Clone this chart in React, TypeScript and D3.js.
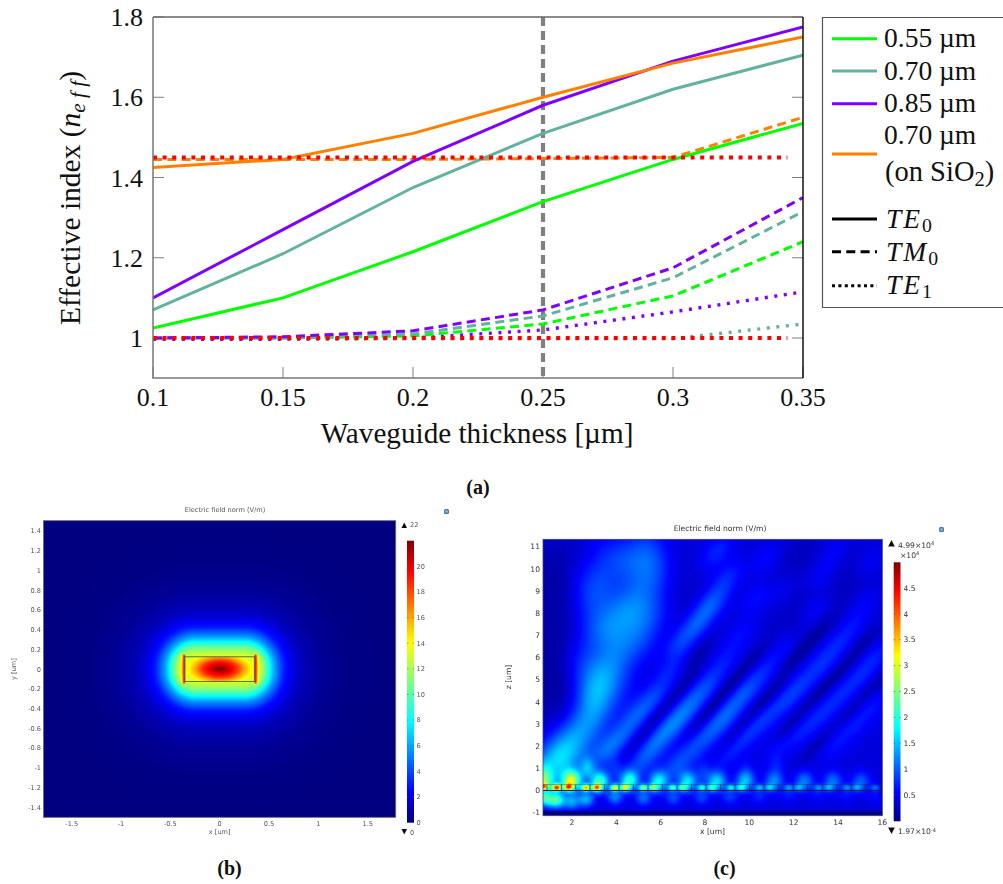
import React, { useMemo } from 'react';
import * as d3 from 'd3';

const thickness = [0.1, 0.15, 0.2, 0.25, 0.3, 0.35];
const te0_055 = [1.025, 1.1, 1.215, 1.34, 1.445, 1.535];
const te0_070 = [1.07, 1.21, 1.375, 1.51, 1.62, 1.705];
const te0_085 = [1.1, 1.27, 1.44, 1.58, 1.69, 1.775];
const te0_sio2 = [1.425, 1.445, 1.51, 1.6, 1.685, 1.75];
const tm0_055 = [1.0, 1.0, 1.005, 1.035, 1.105, 1.24];
const tm0_070 = [1.0, 1.0, 1.01, 1.055, 1.15, 1.315];
const tm0_085 = [1.0, 1.003, 1.018, 1.07, 1.175, 1.35];
const tm0_sio2 = [1.445, 1.445, 1.445, 1.447, 1.45, 1.55];
const te1_070 = [0.998, 0.998, 0.998, 0.998, 0.998, 1.035];
const te1_085 = [0.997, 0.997, 1.0, 1.02, 1.065, 1.115];
const cutoffRange = [0.1, 0.344];
const cutoffLevels = [1.45, 1.0];
const xTicks = [0.1, 0.15, 0.2, 0.25, 0.3, 0.35];
const yTicks = [1, 1.2, 1.4, 1.6, 1.8];

const GREEN = '#00ff00', TEAL = '#62b29e', PURPLE = '#7f00ff', ORANGE = '#ff8000', RED = '#ff0000';
const TM_DASH = '9 5.3', TE1_DASH = '3 6.6';

const colorStops = [0, 0.11, 0.36, 0.5, 0.64, 0.89, 1];
const colorValues = ['#00007f', '#0000ff', '#00ffff', '#7fff7f', '#ffff00', '#ff0000', '#7f0000'];

// (b) mode profile
const outsideDist = [0, 0.05, 0.1, 0.15, 0.2, 0.3, 0.4, 0.5, 0.7, 1, 1.5, 3];
const outsideVal = [13.5, 12, 10.3, 8, 5.8, 2.9, 1.7, 1.0, 0.42, 0.1, 0.02, 0];
const insideRad = [0, 0.15, 0.3, 0.5, 0.7, 0.85, 1, 2];
const insideVal = [22, 21.2, 20, 18.5, 16, 14.5, 13.3, 13];
const xTicksB = [-1.5, -1, -0.5, 0, 0.5, 1, 1.5];
const yTicksB = [-1.4, -1.2, -1, -0.8, -0.6, -0.4, -0.2, 0, 0.2, 0.4, 0.6, 0.8, 1, 1.2, 1.4];
const barTicksB = [0, 2, 4, 6, 8, 10, 12, 14, 16, 18, 20];

// (c) field, read as blobs [x, z, amplitude]
const plumeBlobs = [
  [1.23, 1.22, 1.0], [1.91, 2.05, 0.8], [2.59, 2.95, 0.6], [3.11, 3.85, 0.5], [2.89, 4.6, 0.5], [3.49, 5.35, 0.55],
  [4.17, 6.26, 0.4], [3.64, 7.38, 0.45], [4.32, 8.14, 0.45], [5.07, 8.8, 0.35], [4.47, 10.3, 0.35], [5.59, 9.86, 0.4],
  [5.37, 10.9, 0.35], [3.26, 9.4, 0.3], [2.81, 8.5, 0.3], [2.36, 5.8, 0.3], [4.9, 6.9, 0.3], [4.0, 4.6, 0.2], [3.6, 10.6, 0.2],
  [5.2, 7.6, 0.28], [2.9, 7, 0.25], [5.8, 8.2, 0.2], [2.4, 9.6, 0.12],
];
const ridgeBlobs = [
  [3.49, 1.74, 0.5], [4.24, 2.5, 0.42], [4.92, 3.4, 0.42], [5.67, 4.2, 0.38], [6.42, 5.35, 0.26], [6.87, 6.63, 0.38], [7.62, 7.53, 0.5], [8.3, 8.44, 0.5], [8.98, 9.56, 0.3], [8.53, 10.77, 0.3],
  [5.14, 1.29, 0.42], [5.82, 2.2, 0.5], [6.57, 3.02, 0.58], [7.32, 3.85, 0.5], [8.07, 4.75, 0.38], [8.83, 5.8, 0.22], [9.58, 7, 0.18],
  [6.57, 0.99, 0.42], [7.4, 1.82, 0.34], [8.23, 2.65, 0.42], [8.98, 3.47, 0.5], [9.8, 4.45, 0.45], [10.63, 5.35, 0.26], [11.53, 6.4, 0.18],
  [8.98, 1.6, 0.22], [9.8, 2.5, 0.3], [10.63, 3.25, 0.3], [11.53, 4, 0.3], [12.29, 4.75, 0.3], [13.19, 5.65, 0.3], [13.94, 6.56, 0.26], [14.7, 7.46, 0.22],
  [11.23, 1.9, 0.18], [12.29, 2.65, 0.22], [13.19, 3.4, 0.26], [14.09, 4.3, 0.26], [15, 5.2, 0.26], [15.74, 6.1, 0.22],
  [13.79, 2.05, 0.18], [14.7, 2.95, 0.22], [15.6, 3.85, 0.18],
  [13.19, 9.7, 0.2], [13.8, 10.77, 0.18], [15.14, 8.5, 0.18], [11.5, 9, 0.14], [10.3, 8.66, 0.2], [10.8, 10.5, 0.2], [15.4, 10.3, 0.14], [13, 8.2, 0.18],
];
const darkStripes = [
  [11.83, 2.95, -0.24], [13.04, 4.3, -0.24], [14.09, 5.35, -0.24], [15.14, 6.63, -0.2],
  [13.04, 2.05, -0.2], [14.54, 3.55, -0.2], [15.74, 4.9, -0.2],
  [9.28, 2.5, -0.24], [10.18, 3.55, -0.24], [11.08, 4.45, -0.24], [11.98, 5.95, -0.22], [13.04, 7, -0.2],
  [7.77, 3.1, -0.24], [8.53, 4, -0.24], [9.28, 4.9, -0.24], [10.18, 5.95, -0.2],
  [4.92, 2.2, -0.2], [5.67, 3.1, -0.2], [6.42, 4, -0.2], [7.32, 5.05, -0.2], [7.62, 6.1, -0.18],
];
const darkBroad = [
  [1.3, 6, -0.22], [1.3, 9.5, -0.22], [1.5, 3.6, -0.15], [6.9, 8.2, -0.08], [12.3, 10.9, -0.1], [14.5, 9, -0.12], [11.8, 7.8, -0.08],
];
const guideSpots = [
  [0.71, 0.2, 2.4], [1.31, 0.15, 3.4], [1.83, 0.17, 2.4], [2.63, 0.15, 2.9], [3.11, 0.15, 2.8], [3.94, 0.15, 2.5], [4.39, 0.15, 2.1], [5.22, 0.15, 1.9], [5.67, 0.15, 1.7], [6.54, 0.15, 1.5], [6.99, 0.15, 1.4], [7.85, 0.15, 1.3], [8.3, 0.15, 1.2],
  [9.16, 0.15, 1.2], [9.61, 0.15, 1.1], [10.45, 0.15, 0.95], [10.9, 0.15, 0.85], [11.77, 0.15, 0.8], [12.21, 0.15, 0.75], [13.11, 0.15, 0.75], [13.56, 0.15, 0.7], [14.39, 0.15, 0.7], [14.84, 0.15, 0.65], [15.67, 0.15, 0.6],
];
const lobesAbove = [
  [0.75, 0.45, 1.5], [1.98, 0.45, 2.4], [3.26, 0.42, 1.7], [4.59, 0.45, 1.5], [5.89, 0.42, 1.25], [7.22, 0.42, 1.25], [8.53, 0.42, 1.2], [9.8, 0.42, 1.0], [11.11, 0.42, 0.8], [12.47, 0.42, 0.75], [13.76, 0.42, 0.7], [15.02, 0.4, 0.6],
];
const lobesBelow = [
  [0.8, -0.35, 1.5], [1.31, -0.42, 1.6], [1.98, -0.5, 0.9], [2.63, -0.38, 1.0], [3.94, -0.28, 0.75], [5.22, -0.32, 0.65], [6.57, -0.32, 0.5], [7.85, -0.3, 0.45], [9.13, -0.28, 0.4], [10.45, -0.25, 0.3], [11.77, -0.2, 0.25], [13.1, -0.2, 0.2], [14.4, -0.2, 0.2], [15.67, -0.2, 0.18],
];
const upperLobes = [
  [2.69, 1.0, 0.8], [3.94, 1.0, 0.3], [7.92, 0.8, 0.35], [9.88, 0.85, 0.22], [11.23, 1.1, 0.2], [0.72, 0.95, 0.5],
];
const gratingEdges = [0.87, 1.52, 2.17, 2.81, 3.46, 4.12, 4.77, 5.43, 6.08, 6.74, 7.39, 8.05, 8.7, 9.36, 10.01, 10.67, 11.32, 11.98, 12.63, 13.29, 13.94, 14.6, 15.25, 15.91];
const xTicksC = [2, 4, 6, 8, 10, 12, 14, 16];
const yTicksC = [-1, 0, 1, 2, 3, 4, 5, 6, 7, 8, 9, 10, 11];
const barTicksC = [0.5, 1, 1.5, 2, 2.5, 3, 3.5, 4, 4.5];

type B = number[];
const gauss = (p: B, x: number, z: number, sa: number, sb: number, ang: number) => {
  const c = Math.cos(ang), s = Math.sin(ang);
  const dx = x - p[0], dz = z - p[1];
  const u = dx * c + dz * s, v = -dx * s + dz * c;
  return p[2] * Math.exp(-0.5 * (u * u / (sa * sa) + v * v / (sb * sb)));
};

function paint(w: number, h: number, fn: (px: number, py: number) => number, max: number) {
  const cv = document.createElement('canvas');
  cv.width = w; cv.height = h;
  const ctx = cv.getContext('2d')!;
  const img = ctx.createImageData(w, h);
  const col = d3.scaleLinear<string>().domain(colorStops).range(colorValues).clamp(true);
  const cache = d3.range(0, 1025).map(i => d3.rgb(col(i / 1024)));
  for (let j = 0; j < h; j++) for (let i = 0; i < w; i++) {
    const c = cache[Math.max(0, Math.min(1024, Math.round(fn(i + 0.5, j + 0.5) / max * 1024)))];
    const k = (j * w + i) * 4;
    img.data[k] = c.r; img.data[k + 1] = c.g; img.data[k + 2] = c.b; img.data[k + 3] = 255;
  }
  ctx.putImageData(img, 0, 0);
  return cv.toDataURL();
}

const Sub = ({ t }: { t: string }) => <tspan fontStyle="normal" fontSize="0.72em" dy="0.22em" letterSpacing={0}>{t}</tspan>;

const SER = '"Liberation Serif", serif';
const SANS = '"DejaVu Sans", sans-serif';
const GREYT = '#555';

export default function App() {
  // panel (a)
  const X = { l: 153, r: 803 }, Y = { t: 17, b: 378 };
  const x = d3.scaleLinear().domain([0.1, 0.35]).range([X.l, X.r]);
  const y = d3.scaleLinear().domain([1, 1.8]).range([338, 17]);
  const line = d3.line<number>().x((_, i) => x(thickness[i])).y(d => y(d));
  const series: [number[], string, string | undefined][] = [
    [te1_070, TEAL, TE1_DASH], [te1_085, PURPLE, TE1_DASH],
    [tm0_sio2, ORANGE, TM_DASH], [tm0_055, GREEN, TM_DASH], [tm0_070, TEAL, TM_DASH], [tm0_085, PURPLE, TM_DASH],
    [te0_055, GREEN, undefined], [te0_070, TEAL, undefined], [te0_085, PURPLE, undefined], [te0_sio2, ORANGE, undefined],
  ];

  // panel (b)
  const bx = d3.scaleLinear().domain([-1.5, 1.5]).range([71.7, 367.7]);
  const by = d3.scaleLinear().domain([-1.4, 1.4]).range([807.3, 531]);
  const bbar = d3.scaleLinear().domain([0, 22]).range([822.5, 540.7]);
  const R = { l: 43.5, r: 395.7, t: 520.7, b: 817.3 };
  // panel (c)
  const cx = d3.scaleLinear().domain([2, 16]).range([572, 882.3]);
  const cy = d3.scaleLinear().domain([-1, 11]).range([812.7, 546.7]);
  const cbar = d3.scaleLinear().domain([0.5, 4.5]).range([795, 588]);
  const S = { l: 543, r: 882.3, t: 539.3, b: 815.7 };

  const { imgB, imgC, barB, barC } = useMemo(() => {
    const fo = d3.scaleLinear().domain(outsideDist).range(outsideVal);
    const fi = d3.scaleLinear().domain(insideRad).range(insideVal);
    const hw = 0.355, hh = 0.125, rr = 0.11;
    const fb = (px: number, py: number) => {
      const xv = bx.invert(R.l + px), yv = by.invert(R.t + py);
      const ax = Math.abs(xv), ay = Math.abs(yv);
      const inside = ax <= hw && ay <= hh;
      let v;
      if (inside) v = fi(Math.hypot(xv / hw, yv / 0.17));
      else {
        const d = Math.max(0, Math.hypot(Math.max(0, ax - (hw - rr)), Math.max(0, ay - (hh - rr))) - rr);
        const dx = Math.max(0, ax - hw), dy = Math.max(0, ay - hh);
        v = fo(d) + (dx > 0 ? 3 * Math.exp(-dx / 0.05) * Math.exp(-dy / 0.04) : 0);
      }
      const strip = Math.exp(-Math.pow((ax - 0.362) / 0.014, 2)) * (ay < 0.15 ? 1 : 0);
      return v + strip * Math.max(0, 19.5 - v);
    };
    const rot = (48 * Math.PI) / 180;
    const fc = (px: number, py: number) => {
      const xv = cx.invert(S.l + px), z = cy.invert(S.t + py);
      let v = 0.4;
      for (const b of plumeBlobs) v += gauss(b, xv, z, 0.6, 0.72, 0);
      for (const b of ridgeBlobs) v += gauss(b, xv, z, 0.65, 0.38, rot);
      for (const b of darkStripes) v += gauss(b, xv, z, 0.75, 0.24, rot);
      for (const b of darkBroad) v += gauss(b, xv, z, 1.0, 1.5, 0);
      v = Math.max(v, 0.06);
      for (const b of guideSpots) v += gauss(b, xv, z, 0.14, 0.11, 0);
      for (const b of lobesAbove) v += gauss(b, xv, z, 0.29, 0.32, 0);
      for (const b of lobesBelow) v += gauss(b, xv, z, 0.25, 0.24, 0);
      for (const b of upperLobes) v += gauss(b, xv, z, 0.24, 0.35, 0);
      if (z < -0.9) v = 0.12;
      return Math.min(v, 4.85);
    };
    const imgB = paint(Math.round(R.r - R.l), Math.round(R.b - R.t), fb, 22);
    const imgC = paint(Math.round(S.r - S.l), Math.round(S.b - S.t), fc, 4.99);
    const barB = paint(7, 282, (_, p) => 22 * (1 - p / 282), 22);
    const barC = paint(7, 259, (_, p) => 4.99 * (1 - p / 259), 4.99);
    return { imgB, imgC, barB, barC };
  }, []);

  const gPath = gratingEdges.map(e => `M${cx(e)},${cy(0)}V${cy(0.27)}`).join('');
  const legendY = [38.7, 71, 103.7, 154];
  const legendC = [GREEN, TEAL, PURPLE, ORANGE];

  return (
    <svg width={1003} height={884} style={{ position: 'absolute', left: 0, top: 0, background: '#fff' }}>
      <defs>
        <clipPath id="plotA"><rect x={X.l} y={Y.t} width={X.r - X.l} height={Y.b - Y.t} /></clipPath>
        <filter id="soft" x="-5%" y="-5%" width="110%" height="110%"><feGaussianBlur stdDeviation="0.3" /></filter>
      </defs>

      {/* panel (a) */}
      <g fontFamily={SER} fill="#111">
        <g stroke="#808080" strokeWidth={1}>
          {xTicks.map(t => <path key={t} d={`M${x(t)},${Y.b}v-11`} />)}
          {yTicks.map(t => <path key={t} d={`M${X.l},${y(t)}h11M${X.r},${y(t)}h-11`} />)}
        </g>
        <g clipPath="url(#plotA)" fill="none">
          <path d={`M${x(0.25)},${Y.t}V${Y.b}`} stroke="#808080" strokeWidth={4.2} strokeDasharray="9 5" />
          {series.map(([v, c, dash], i) => (
            <path key={i} d={line(v)!} stroke={c} strokeWidth={dash === TE1_DASH ? 3.4 : 3} strokeDasharray={dash} />
          ))}
          {cutoffLevels.map(l => (
            <path key={l} d={`M${x(cutoffRange[0])},${y(l)}H${x(cutoffRange[1])}`} stroke={RED} strokeWidth={4} strokeDasharray="4 5.6" />
          ))}
        </g>
        <path d={`M${X.l},${Y.t}H${X.r}`} stroke="#666" strokeWidth={1.5} fill="none" />
        <path d={`M${X.l},${Y.t}V${Y.b}H${X.r}`} stroke="#777" strokeWidth={1.5} fill="none" />
        <path d={`M${X.r},${Y.t}V${Y.b}`} stroke="#111" strokeWidth={1.5} fill="none" />
        {xTicks.map(t => <text key={t} x={x(t)} y={406} textAnchor="middle" fontSize={26}>{String(t)}</text>)}
        {yTicks.map(t => <text key={t} x={143} y={y(t) + 9} textAnchor="end" fontSize={26}>{String(t)}</text>)}
        <text x={477} y={443} textAnchor="middle" fontSize={29.2}>Waveguide thickness [µm]</text>
        <text transform="translate(80,198) rotate(-90)" textAnchor="middle" fontSize={29.5}>
          Effective index (<tspan fontStyle="italic">n</tspan><tspan fontStyle="italic" fontSize="0.72em" dy="0.22em">e f f</tspan><tspan dy="-0.16em">)</tspan>
        </text>

        {/* legend */}
        <path d="M1003,17.5H822.5V307.5H1003" fill="none" stroke="#555" strokeWidth={1.2} />
        {legendY.map((ly, i) => <path key={i} d={`M832,${ly}H877`} stroke={legendC[i]} strokeWidth={3} />)}
        <path d="M832,219H877" stroke="#000" strokeWidth={3} />
        <path d="M832,251.7H877" stroke="#000" strokeWidth={3} strokeDasharray="9 5.3" />
        <path d="M832,285.7H877" stroke="#000" strokeWidth={3} strokeDasharray="3 3.4" />
        <g fontSize={27.5}>
          <text x={884} y={47}>0.55 µm</text>
          <text x={884} y={80}>0.70 µm</text>
          <text x={884} y={112}>0.85 µm</text>
          <text x={884} y={144}>0.70 µm</text>
          <text x={885} y={181} fontSize={28.5}>(on SiO<tspan fontSize="0.72em" dy="0.22em">2</tspan><tspan dy="-0.16em">)</tspan></text>
          <text x={886} y={228} fontStyle="italic" letterSpacing={2}>TE<Sub t="0" /></text>
          <text x={886} y={261} fontStyle="italic" letterSpacing={2}>TM<Sub t="0" /></text>
          <text x={886} y={294} fontStyle="italic" letterSpacing={2}>TE<Sub t="1" /></text>
        </g>
      </g>

      {/* captions */}
      <g fontFamily={SER} fontWeight="bold" fontSize={20} fill="#111" textAnchor="middle">
        <text x={478} y={494}>(a)</text>
        <text x={229.5} y={875}>(b)</text>
        <text x={724.5} y={875}>(c)</text>
      </g>

      {/* panel (b) */}
      <image href={imgB} x={R.l} y={R.t} width={R.r - R.l} height={R.b - R.t} preserveAspectRatio="none" />
      <image href={barB} x={407} y={540.7} width={7} height={282} preserveAspectRatio="none" />
      <g filter="url(#soft)">
        <rect x={R.l} y={R.t} width={R.r - R.l} height={R.b - R.t} fill="none" stroke="#667" strokeWidth={0.8} />
        <rect x={bx(-0.355)} y={by(0.125)} width={bx(0.355) - bx(-0.355)} height={by(-0.125) - by(0.125)} fill="none" stroke="#2a5a5a" strokeWidth={0.8} />
        <g fontFamily={SANS} fontSize={6.6} fill={GREYT}>
          <text x={225} y={512} textAnchor="middle">Electric field norm (V/m)</text>
          {xTicksB.map(t => <text key={t} x={bx(t)} y={825.5} textAnchor="middle">{String(t)}</text>)}
          {yTicksB.map(t => <text key={t} x={41} y={by(t) + 2.4} textAnchor="end">{String(t)}</text>)}
          <text x={219.7} y={833.5} textAnchor="middle">x [um]</text>
          <text transform="translate(15.5,669) rotate(-90)" textAnchor="middle">y [um]</text>
          {barTicksB.map(t => <text key={t} x={416.5} y={bbar(t) + 2.4}>{String(t)}</text>)}
          <text x={410} y={527}>22</text>
          <text x={410} y={834.5}>0</text>
          <path d="M401.5,528L407,528L404.25,522.5Z" fill="#111" />
          <path d="M401.5,829L407,829L404.25,834.5Z" fill="#111" />
        </g>
        <g stroke="#556" strokeWidth={0.6}>
          {barTicksB.map(t => <path key={t} d={`M407,${bbar(t)}h1.5M414,${bbar(t)}h-1.5`} />)}
        </g>
        <rect x={444} y={509} width={5} height={5} rx={1.5} fill="#3a78c8" />
        <rect x={445.5} y={510.5} width={2} height={2} fill="#e8d860" />
      </g>

      {/* panel (c) */}
      <image href={imgC} x={S.l} y={S.t} width={S.r - S.l} height={S.b - S.t} preserveAspectRatio="none" />
      <image href={barC} x={893.7} y={562.3} width={6.8} height={259} preserveAspectRatio="none" />
      <g filter="url(#soft)">
        <path d={gPath} stroke="#0a2a40" strokeWidth={0.7} fill="none" />
        <path d={`M${S.l},${cy(0)}H${S.r}`} stroke="#0a2030" strokeWidth={1} fill="none" />
        <path d={`M${S.l},${cy(0.27)}H${S.r}`} stroke="#0a2a40" strokeWidth={0.5} strokeOpacity={0.7} fill="none" />
        <path d={`M${S.l},${cy(-1)}H${S.r}`} stroke="#000040" strokeWidth={0.8} fill="none" />
        <rect x={S.l} y={S.t} width={S.r - S.l} height={S.b - S.t} fill="none" stroke="#445" strokeWidth={0.8} />
        <g fontFamily={SANS} fontSize={7.6} fill="#333">
          <text x={720} y={531} textAnchor="middle">Electric field norm (V/m)</text>
          {xTicksC.map(t => <text key={t} x={cx(t)} y={824.5} textAnchor="middle">{String(t)}</text>)}
          {yTicksC.map(t => <text key={t} x={540} y={cy(t) + 2.7} textAnchor="end">{String(t)}</text>)}
          <text x={712.5} y={833.5} textAnchor="middle">x [um]</text>
          <text transform="translate(511,677) rotate(-90)" textAnchor="middle">z [um]</text>
          {barTicksC.map(t => <text key={t} x={903.5} y={cbar(t) + 2.7}>{String(t)}</text>)}
          <text x={898} y={547.5}>4.99×10<tspan fontSize={5} dy={-2.5}>4</tspan></text>
          <text x={900} y={557.5}>×10<tspan fontSize={5} dy={-2.5}>4</tspan></text>
          <text x={898} y={834}>1.97×10<tspan fontSize={5} dy={-2.5}>-4</tspan></text>
          <path d="M888.2,546.5L894.8,546.5L891.5,540Z" fill="#111" />
          <path d="M888.2,827.5L894.8,827.5L891.5,834Z" fill="#111" />
        </g>
        <g stroke="#556" strokeWidth={0.6}>
          {barTicksC.map(t => <path key={t} d={`M893.7,${cbar(t)}h1.5M900.5,${cbar(t)}h-1.5`} />)}
        </g>
        <rect x={939} y={527} width={5} height={5} rx={1.5} fill="#3a78c8" />
        <rect x={940.5} y={528.5} width={2} height={2} fill="#e8d860" />
      </g>
    </svg>
  );
}
